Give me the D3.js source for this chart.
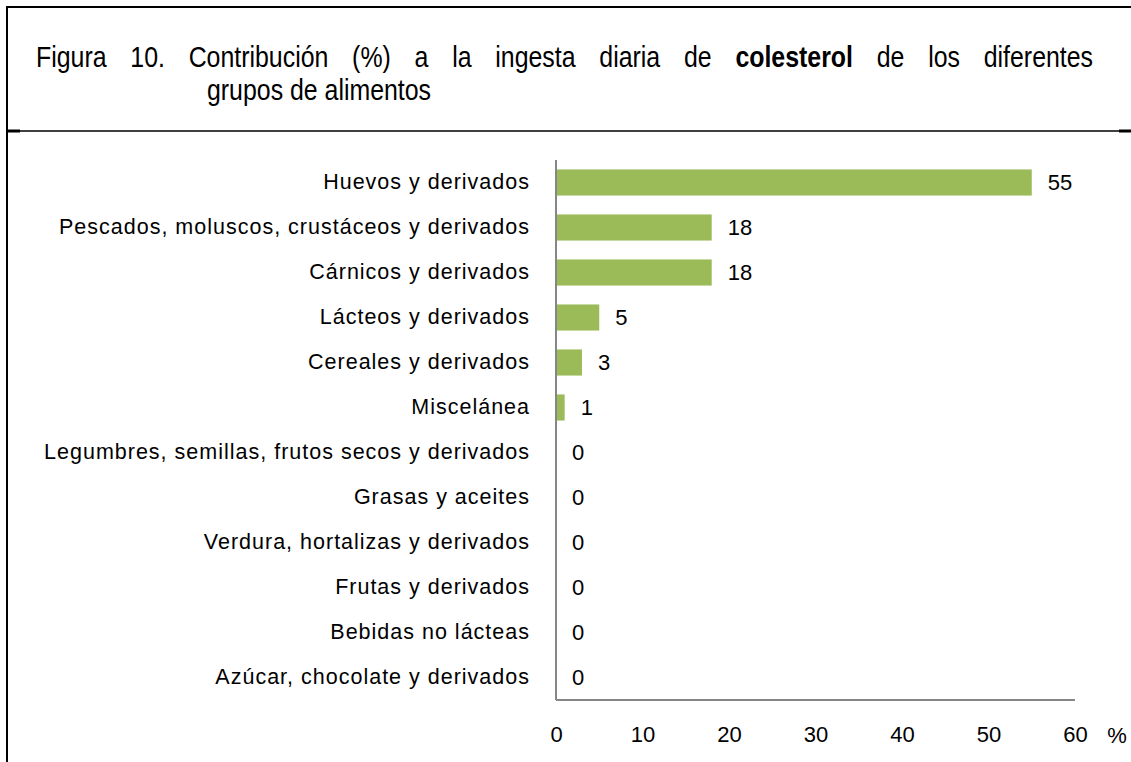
<!DOCTYPE html>
<html><head><meta charset="utf-8">
<script src="https://cdn.jsdelivr.net/npm/d3@7/dist/d3.min.js"></script>
<style>body{margin:0;background:#fff}</style>
</head><body><svg id="c" width="1131" height="762"></svg>
<script>
const categories = ["Huevos y derivados","Pescados, moluscos, crustáceos y derivados","Cárnicos y derivados","Lácteos y derivados","Cereales y derivados","Miscelánea","Legumbres, semillas, frutos secos y derivados","Grasas y aceites","Verdura, hortalizas y derivados","Frutas y derivados","Bebidas no lácteas","Azúcar, chocolate y derivados"];
const values = [55,18,18,5,3,1,0,0,0,0,0,0];
const ticks = [0,10,20,30,40,50,60];
const titleLine1 = ["Figura 10. Contribución (%) a la ingesta diaria de ", "colesterol", " de los diferentes"];
const titleLine2 = "grupos de alimentos";

const svg = d3.select("#c");
const lab = "'Liberation Sans',Arial,sans-serif";
// frame
svg.append("path").attr("d","M7,762 V7 H1131").attr("fill","none").attr("stroke","#000").attr("stroke-width",2);
svg.append("line").attr("x1",7).attr("x2",1131).attr("y1",131).attr("y2",131).attr("stroke","#000").attr("stroke-width",1.5);
svg.append("line").attr("x1",7).attr("x2",20).attr("y1",131).attr("y2",131).attr("stroke","#000").attr("stroke-width",3);
svg.append("line").attr("x1",1119).attr("x2",1131).attr("y1",131).attr("y2",131).attr("stroke","#000").attr("stroke-width",3);

// title (slightly condensed), line 1 justified
const sx = 0.83;
const g1 = svg.append("g").attr("transform",`translate(36,67) scale(${sx},1)`);
const t1 = g1.append("text").attr("x",0).attr("y",0).attr("font-family",lab).attr("font-size",30).attr("fill","#000");
titleLine1.forEach((s,i)=>t1.append("tspan").text(s).attr("font-weight",i===1?"bold":"normal"));
const w = t1.node().getComputedTextLength();
const nsp = titleLine1.join("").split(" ").length-1;
t1.attr("word-spacing",((1093-36)/sx - w)/nsp);
svg.append("g").attr("transform",`translate(207,100) scale(${sx},1)`)
  .append("text").attr("font-family",lab).attr("font-size",30).attr("fill","#000").text(titleLine2);

const x = d3.scaleLinear().domain([0,60]).range([556,1075]);
const y = d3.scaleBand().domain(categories).range([160,700]).paddingInner(0.42).paddingOuter(0.21);

svg.selectAll("rect.bar").data(values).join("rect").attr("class","bar")
  .attr("x",x(0)).attr("y",(d,i)=>y(categories[i])).attr("width",d=>x(d)-x(0)).attr("height",y.bandwidth())
  .attr("fill","#9BBB59");

svg.selectAll("text.val").data(values).join("text").attr("class","val")
  .attr("x",d=>x(d)+16).attr("y",(d,i)=>y(categories[i])+y.bandwidth()/2).attr("dy","0.35em")
  .attr("font-family",lab).attr("font-size",22).attr("fill","#000").text(d=>d);

// y axis
const ya = svg.append("g").attr("transform",`translate(${x(0)},0)`).call(d3.axisLeft(y).tickSize(0).tickPadding(26));
ya.select(".domain").attr("stroke","#868686").attr("stroke-width",2).attr("d","M0,160V700");
ya.selectAll("text").attr("font-family",lab).attr("font-size",21.5).attr("letter-spacing","1px").attr("fill","#000");

// x axis
svg.append("line").attr("x1",x(0)).attr("x2",x(60)).attr("y1",700).attr("y2",700).attr("stroke","#868686").attr("stroke-width",2);
const xa = svg.append("g").attr("transform","translate(0,700)").call(d3.axisBottom(x).tickValues(ticks).tickSize(0).tickPadding(26));
xa.select(".domain").remove();
xa.selectAll("text").attr("font-family",lab).attr("font-size",22).attr("fill","#000");
svg.append("text").attr("x",1117).attr("y",735).attr("dy","0.35em").attr("text-anchor","middle").attr("font-family",lab).attr("font-size",22).text("%");
</script></body></html>
